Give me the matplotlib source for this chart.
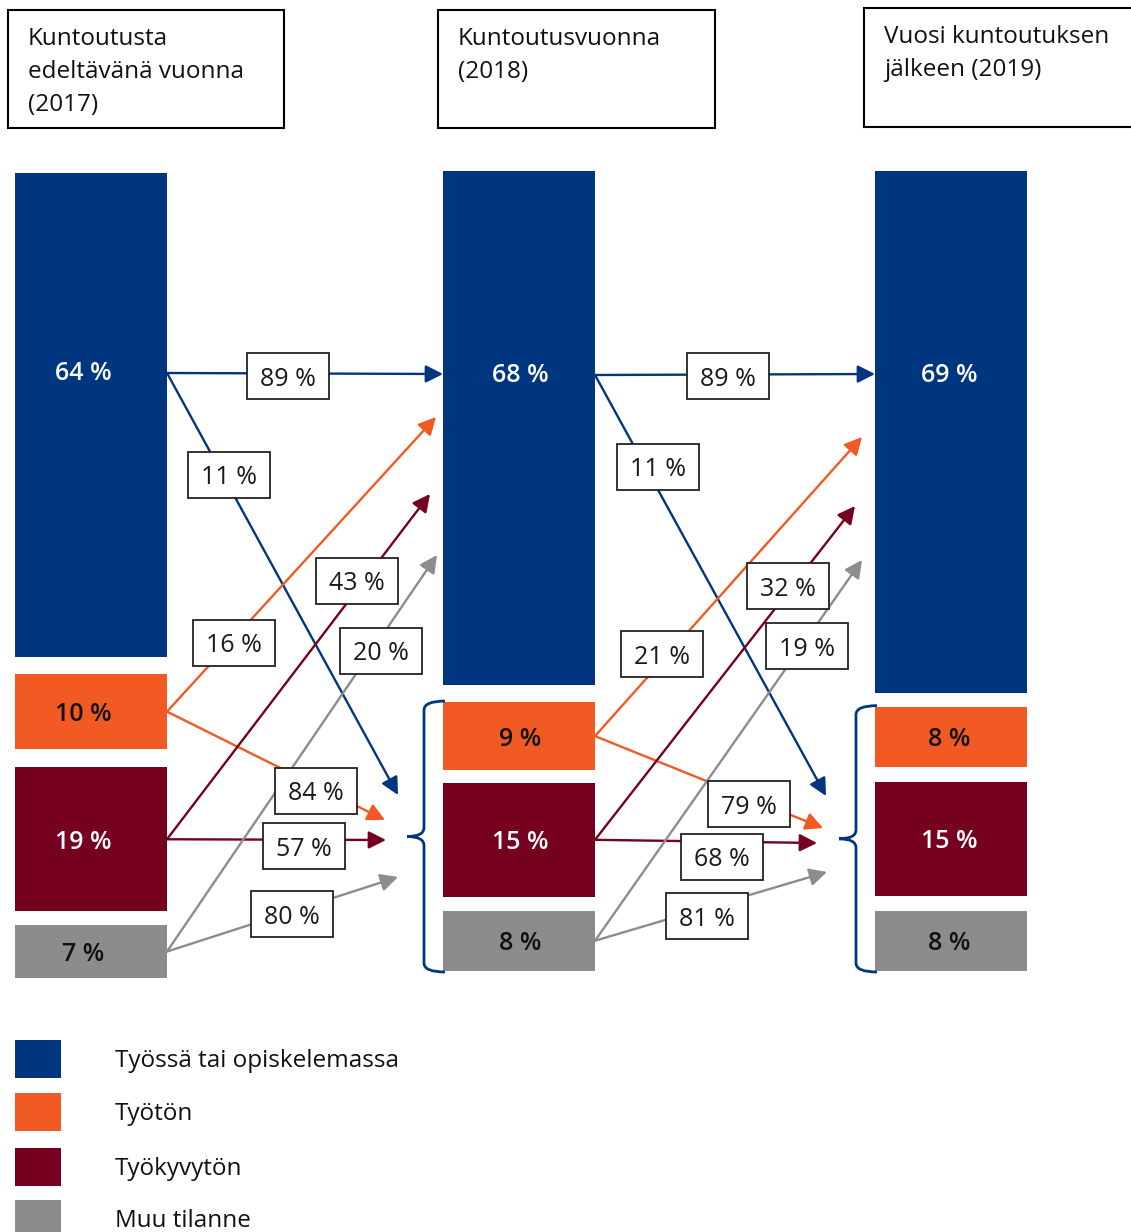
import matplotlib
matplotlib.use("Agg")
import matplotlib.pyplot as plt
from matplotlib.patches import Rectangle, PathPatch
from matplotlib.path import Path

plt.rcParams['font.family'] = ['Open Sans', 'DejaVu Sans']

# Data.
categories = ['Työssä tai opiskelemassa', 'Työtön', 'Työkyvytön', 'Muu tilanne']
column_titles = ['Kuntoutusta\nedeltävänä vuonna\n(2017)',
                 'Kuntoutusvuonna\n(2018)',
                 'Vuosi kuntoutuksen\njälkeen (2019)']
share_2017 = [64, 10, 19, 7]
share_2018 = [68, 9, 15, 8]
share_2019 = [69, 8, 15, 8]
# Share of each group moving to work/study, and to the other groups.
to_work_2018 = [89, 16, 43, 20]
to_other_2018 = [11, 84, 57, 80]
to_work_2019 = [89, 21, 32, 19]
to_other_2019 = [11, 79, 68, 81]

colors = ['#00367F', '#F15A22', '#75001F', '#8C8C8C']
label_colors = ['white', '#111111', 'white', '#111111']

# Layout (pixels).
W, H = 1131, 1232
bar_x = [15, 443, 875]
bar_w = 152
bar_top = [173, 171, 171]
bar_gaps = [[17, 18, 14], [17, 13, 14], [14, 15, 15]]
px_per_pct = 7.56
blue_label_y = [373, 375, 374]
label_x = [83, 520, 949]
text_dy = 3  # baseline correction so digits sit visually centred

work_tips = [[(443, 374), (436, 417), (430, 494), (437, 555)],
             [(875, 374), (862, 437), (855, 506), (862, 560)]]
other_tips = [[(398, 795), (385, 820), (386, 840), (398, 877)],
              [(826, 796), (823, 828), (817, 843), (827, 872)]]
work_lbl = [[(288, 376), (234, 643), (357, 581), (381, 651)],
            [(728, 376), (662, 654), (788, 586), (807, 646)]]
other_lbl = [[(229, 475), (316, 791), (304, 846), (292, 914)],
             [(658, 467), (749, 804), (722, 857), (707, 916)]]
box_w, box_h = 82, 46

fig = plt.figure(figsize=(W / 100, H / 100), dpi=100)
ax = fig.add_axes([0, 0, 1, 1])
ax.set_xlim(0, W)
ax.set_ylim(H, 0)
ax.axis('off')

# Column title boxes.
title_boxes = [(8, 10, 276, 118), (438, 10, 277, 118), (864, 8, 280, 119)]
for (bx, by, bw, bh), title in zip(title_boxes, column_titles):
    ax.add_patch(Rectangle((bx, by), bw, bh, fc='white', ec='black', lw=1.5))
    ax.text(bx + 20, by + 17, title, fontsize=17.5, va='top', ha='left',
            color='#111111', linespacing=1.5)

# Stacked bars.
bar_geom = []
for col, shares in enumerate([share_2017, share_2018, share_2019]):
    heights = [s * px_per_pct for s in shares]
    bottoms = []
    y = bar_top[col]
    for i, h in enumerate(heights):
        bottoms.append(y)
        y += h
        if i < 3:
            y += bar_gaps[col][i]
    ax.bar([bar_x[col]] * 4, heights, bottom=bottoms, width=bar_w,
           align='edge', color=colors, zorder=2)
    centers = [b + h / 2 for b, h in zip(bottoms, heights)]
    bar_geom.append((bottoms, heights, centers))
    for i, s in enumerate(shares):
        ly = blue_label_y[col] + 1 if i == 0 else centers[i] + text_dy
        ax.text(label_x[col], ly, f'{s} %', fontsize=18, ha='center',
                va='center', color=label_colors[i], weight='semibold', zorder=3)

# Transition arrows and their value boxes.
flows = [(to_work_2018, to_other_2018), (to_work_2019, to_other_2019)]
for t, (to_work, to_other) in enumerate(flows):
    bottoms, heights, centers = bar_geom[t]
    x0 = bar_x[t] + bar_w
    for i in range(4):
        y0 = blue_label_y[t] if i == 0 else centers[i]
        for tip, lbl, val in [(work_tips[t][i], work_lbl[t][i], to_work[i]),
                              (other_tips[t][i], other_lbl[t][i], to_other[i])]:
            ax.annotate('', xy=tip, xytext=(x0, y0),
                        arrowprops=dict(arrowstyle='-|>,head_length=0.75,head_width=0.38',
                                        color=colors[i], lw=1.7, shrinkA=0, shrinkB=0,
                                        mutation_scale=14), zorder=4)
            ax.add_patch(Rectangle((lbl[0] - box_w / 2, lbl[1] - box_h / 2), box_w, box_h,
                                   fc='white', ec='#222222', lw=1.3, zorder=5))
            ax.text(lbl[0], lbl[1] + text_dy, f'{val} %', fontsize=18, ha='center',
                    va='center', color='#1a1a1a', zorder=6)

# Curly brackets around the non-work groups.
for col in [1, 2]:
    bottoms, heights, centers = bar_geom[col]
    top = bottoms[1] - 1
    bot = bottoms[3] + heights[3] + 1
    mid = (top + bot) / 2
    xe = bar_x[col] + 2
    xv = bar_x[col] - 19
    xt = bar_x[col] - 36
    r = 9
    verts = [(xe, top), (xv, top), (xv, top + r),
             (xv, mid - r), (xv, mid), (xt, mid),
             (xv, mid), (xv, mid + r),
             (xv, bot - r), (xv, bot), (xe, bot)]
    codes = [Path.MOVETO, Path.CURVE3, Path.CURVE3,
             Path.LINETO, Path.CURVE3, Path.CURVE3,
             Path.CURVE3, Path.CURVE3,
             Path.LINETO, Path.CURVE3, Path.CURVE3]
    ax.add_patch(PathPatch(Path(verts, codes), fc='none', ec=colors[0], lw=2, zorder=3))

# Legend.
legend_y = [1040, 1093, 1148, 1200]
for c, name, ly in zip(colors, categories, legend_y):
    ax.add_patch(Rectangle((15, ly), 46, 38, fc=c, ec='none'))
    ax.text(115, ly + 18 + text_dy, name, fontsize=17.5, va='center', ha='left',
            color='#111111')

fig.savefig('out.png', dpi=100)
